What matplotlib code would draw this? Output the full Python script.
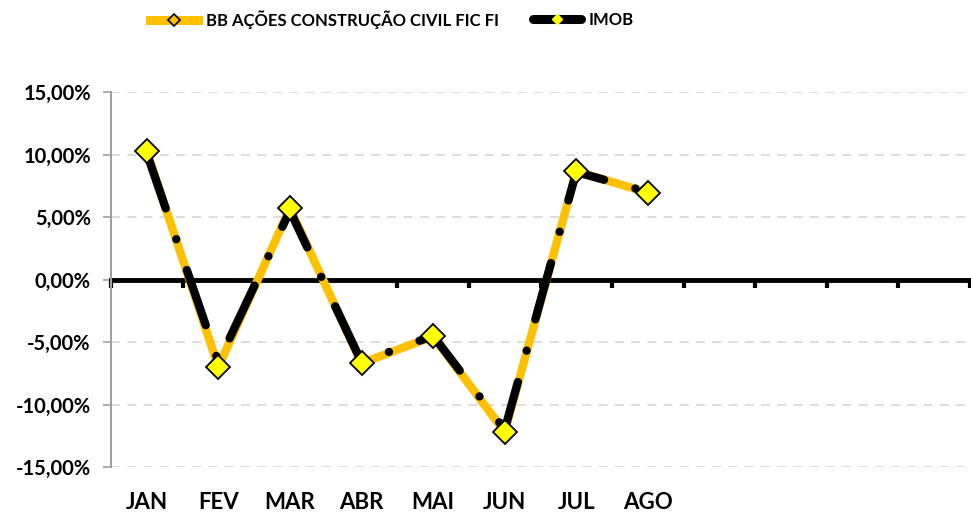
"""Monthly returns: BB Ações Construção Civil FIC FI vs IMOB."""

import matplotlib

matplotlib.use("Agg")
import matplotlib.pyplot as plt
from matplotlib.lines import Line2D
from matplotlib.ticker import FixedLocator, FuncFormatter
import matplotlib.transforms as mtransforms

months = ["JAN", "FEV", "MAR", "ABR", "MAI", "JUN", "JUL", "AGO", "SET", "OUT", "NOV", "DEZ"]
shown_labels = ["JAN", "FEV", "MAR", "ABR", "MAI", "JUN", "JUL", "AGO", "", "", "", ""]
bb_fund = [10.25, -7.0, 5.7, -6.7, -4.55, -12.2, 8.65, 6.95]
imob = [10.1, -6.6, 5.5, -6.6, -4.5, -12.0, 8.6, 7.0]
y_ticks = [-15, -10, -5, 0, 5, 10, 15]
series_names = ["BB AÇÕES CONSTRUÇÃO CIVIL FIC FI", "IMOB"]

BB_COLOR = "#FFC000"
MARKER_FILL = "#FFFF00"
FONT = "Lato"

plt.rcParams["font.family"] = [FONT, "DejaVu Sans"]
plt.rcParams["font.weight"] = "bold"

fig = plt.figure(figsize=(9.71, 5.15), dpi=100)
ax = fig.add_axes([111 / 971, 1 - 467 / 515, 859 / 971, 375 / 515])

x_bb = list(range(len(bb_fund)))
x_imob = list(range(len(imob)))

ax.plot(x_bb, bb_fund, color=BB_COLOR, lw=6, solid_capstyle="butt", zorder=3)
ax.plot(x_imob, imob, color="black", lw=6, dashes=(7, 3.9, 0.01, 3.9),
        dash_capstyle="round", zorder=4)
ax.plot(x_bb, bb_fund, ls="none", marker="D", ms=12, mfc=MARKER_FILL, mec="black",
        mew=1.3, zorder=5)

ax.set_xlim(-0.5, len(months) - 0.5)
ax.set_ylim(-15, 15)

# y axis
ax.yaxis.set_major_locator(FixedLocator(y_ticks))
ax.yaxis.set_major_formatter(FuncFormatter(lambda v, _: f"{v:.2f}%".replace(".", ",")))
ax.tick_params(axis="y", direction="out", length=6, width=1.2, color="#A0A0A0",
               labelsize=14.5, pad=8.5)
for lab in ax.get_yticklabels():
    lab.set_fontweight("bold")
ax.grid(axis="y", color="#D9D9D9", ls=(0, (5, 4)), lw=1.3, zorder=0)
ax.set_axisbelow(True)

# category axis crossing at zero
ax.spines["top"].set_visible(False)
ax.spines["right"].set_visible(False)
ax.spines["left"].set_color("#A0A0A0")
ax.spines["left"].set_linewidth(1.5)
ax.spines["bottom"].set_position(("data", 0))
ax.spines["bottom"].set_linewidth(3.5)
ax.spines["bottom"].set_zorder(2)
ax.xaxis.set_major_locator(FixedLocator([i - 0.5 for i in range(len(months) + 1)]))
ax.xaxis.set_major_formatter(FuncFormatter(lambda v, _: ""))
ax.tick_params(axis="x", direction="out", length=6, width=3, color="black")

trans = mtransforms.blended_transform_factory(ax.transData, ax.transAxes)
for i, lab in enumerate(shown_labels):
    ax.text(i, -0.095, lab, transform=trans, ha="center", va="center",
            fontsize=16, fontweight="bold")

# legend: two entries placed like the original
handles = [
    Line2D([], [], color=BB_COLOR, lw=6.5, marker="D", ms=6, mfc=BB_COLOR, mec="black", mew=1.2),
    Line2D([], [], color="black", lw=6.5, solid_capstyle="round", marker="D", ms=5,
           mfc=MARKER_FILL, mec=MARKER_FILL),
]
legend_left = [150 / 971, 533 / 971]
for handle, name, left in zip(handles, series_names, legend_left):
    fig.legend([handle], [name], frameon=False, loc="center left",
               bbox_to_anchor=(left, 1 - 20 / 515), borderpad=0, borderaxespad=0,
               handlelength=2.9, handletextpad=0.45,
               prop={"family": FONT, "weight": "bold", "size": 12})

fig.savefig("out.png", dpi=100)
